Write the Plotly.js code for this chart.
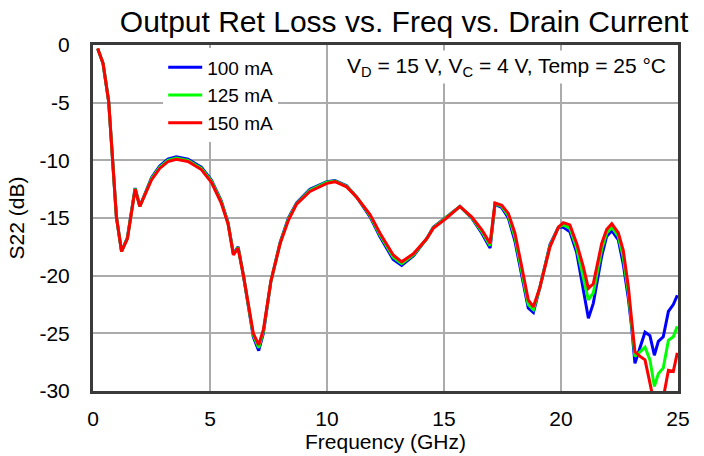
<!DOCTYPE html>
<html>
<head>
<meta charset="utf-8">
<script src="https://cdn.plot.ly/plotly-3.0.1.min.js"></script>
<style>html,body{margin:0;padding:0;background:#fff;}#chart{width:704px;height:456px;}</style>
</head>
<body>
<div id="chart"></div>
<script>
// Frequency points (GHz)
var freqGHz = [0.2,0.43,0.67,0.8,0.93,1.0,1.22,1.47,1.8,2.0,2.5,2.85,3.2,3.56,4.06,4.63,5.06,5.48,5.77,6.0,6.2,6.43,6.85,7.08,7.28,7.6,8.0,8.35,8.7,9.27,9.99,10.34,10.84,11.27,11.84,12.26,12.83,13.19,13.69,14.26,14.54,15.11,15.68,16.18,16.61,16.97,17.18,17.47,17.75,18.03,18.32,18.6,18.82,19.1,19.53,19.89,20.1,20.38,20.67,20.95,21.17,21.38,21.74,21.95,22.17,22.45,22.66,22.88,23.02,23.16,23.38,23.59,23.8,23.99,24.16,24.37,24.59,24.8,24.97];

// S22 (dB) per drain current
var s22_100mA = [-0.3,-1.6,-4.9,-9.1,-12.9,-14.9,-17.9,-16.7,-12.4,-14.0,-11.5,-10.5,-9.9,-9.7,-9.9,-10.6,-11.7,-13.5,-15.4,-18.1,-17.5,-20.0,-25.3,-26.5,-25.0,-20.5,-17.1,-15.0,-13.7,-12.5,-11.85,-11.75,-12.2,-13.2,-14.9,-16.6,-18.6,-19.1,-18.3,-16.8,-15.8,-14.9,-14.0,-15.0,-16.3,-17.6,-13.8,-14.1,-15.0,-17.0,-20.0,-22.8,-23.2,-21.0,-17.3,-15.8,-15.8,-16.2,-18.0,-21.2,-23.7,-22.4,-18.3,-16.6,-16.1,-16.9,-19.0,-22.0,-24.5,-27.6,-26.3,-24.9,-25.2,-26.9,-25.7,-25.3,-23.1,-22.5,-21.7];
var s22_125mA = [-0.3,-1.6,-4.9,-9.1,-12.9,-14.9,-17.9,-16.75,-12.45,-14.0,-11.6,-10.6,-10.0,-9.8,-10.0,-10.7,-11.8,-13.6,-15.45,-18.15,-17.55,-20.0,-25.15,-26.25,-24.85,-20.5,-17.15,-15.1,-13.75,-12.6,-11.9,-11.8,-12.25,-13.2,-14.8,-16.45,-18.4,-18.95,-18.2,-16.8,-15.85,-14.95,-14.0,-14.95,-16.15,-17.4,-13.75,-14.0,-14.8,-16.65,-19.6,-22.5,-22.95,-21.0,-17.4,-15.8,-15.6,-15.9,-17.6,-20.2,-22.1,-21.5,-17.7,-16.3,-15.8,-16.6,-18.4,-21.5,-24.2,-27.0,-26.6,-26.2,-27.3,-29.6,-28.5,-28.0,-25.6,-25.3,-24.4];
var s22_150mA = [-0.3,-1.6,-4.9,-9.1,-12.9,-14.9,-17.9,-16.8,-12.5,-14.0,-11.7,-10.7,-10.1,-9.9,-10.1,-10.8,-11.9,-13.7,-15.5,-18.2,-17.6,-20.0,-25.0,-26.0,-24.7,-20.5,-17.2,-15.2,-13.8,-12.7,-12.0,-11.85,-12.3,-13.2,-14.7,-16.3,-18.2,-18.8,-18.1,-16.8,-15.9,-15.0,-14.0,-14.9,-16.0,-17.2,-13.7,-13.9,-14.6,-16.3,-19.2,-22.1,-22.7,-21.0,-17.5,-15.8,-15.4,-15.6,-17.2,-19.2,-21.1,-20.7,-17.2,-16.0,-15.5,-16.3,-17.8,-21.0,-23.9,-26.6,-27.0,-27.3,-29.3,-31.2,-31.5,-30.6,-28.2,-28.3,-26.7];

var seriesNames = ["100 mA","125 mA","150 mA"];
var seriesColors = ["#0000ff","#00ff00","#ff0000"];
var xTickVals = [0,5,10,15,20,25];
var yTickVals = [0,-5,-10,-15,-20,-25,-30];
var yTickLabels = ["0","-5","-10","-15","-20","-25","-30"];

var seriesData = [s22_100mA, s22_125mA, s22_150mA];
var traces = seriesData.map(function(y, i){
  return {x: freqGHz, y: y, type: "scatter", mode: "lines", name: seriesNames[i],
          line: {color: seriesColors[i], width: 3}};
});

var font = "Liberation Sans, Arial, sans-serif";
var layout = {
  width: 704, height: 456,
  margin: {l: 93, r: 26, t: 45, b: 65},
  paper_bgcolor: "#fff", plot_bgcolor: "#fff",
  font: {family: font, color: "#000", size: 20},
  title: {text: "Output Ret Loss vs. Freq vs. Drain Current", font: {family: font, size: 30, color: "#000"},
          x: 0.574, xanchor: "center", y: 0.952, yanchor: "middle", xref: "container", yref: "container"},
  showlegend: true,
  legend: {x: 0.12, y: 0.99, xanchor: "left", yanchor: "top", bgcolor: "#fff", borderwidth: 0,
           font: {family: font, size: 19}, tracegroupgap: 0, itemwidth: 34},
  xaxis: {range: [0, 25], tickvals: xTickVals, showgrid: true, gridcolor: "#ababab", gridwidth: 2,
          zeroline: false, showline: true, linecolor: "#3a3a3a", linewidth: 3, mirror: true,
          ticks: "", ticklabelstandoff: 7, tickfont: {size: 21},
          title: {text: "Frequency (GHz)", font: {size: 21}, standoff: 4}},
  yaxis: {range: [-30, 0], tickvals: yTickVals, ticktext: yTickLabels, showgrid: true, gridcolor: "#ababab", gridwidth: 2,
          zeroline: false, showline: true, linecolor: "#3a3a3a", linewidth: 3, mirror: true,
          ticks: "", ticklabelstandoff: 16, tickfont: {size: 21},
          title: {text: "S22 (dB)", font: {size: 21}, standoff: 10}},
  annotations: [{
    xref: "paper", yref: "paper", x: 0.987, y: 0.985, xanchor: "right", yanchor: "top",
    text: "V<sub>D</sub> = 15 V, V<sub>C</sub> = 4 V, Temp = 25 °C", showarrow: false,
    font: {family: font, size: 21, color: "#000"}, bgcolor: "#fff", borderpad: 3
  }]
};
Plotly.newPlot("chart", traces, layout, {displayModeBar: false, staticPlot: true});
</script>
</body>
</html>
